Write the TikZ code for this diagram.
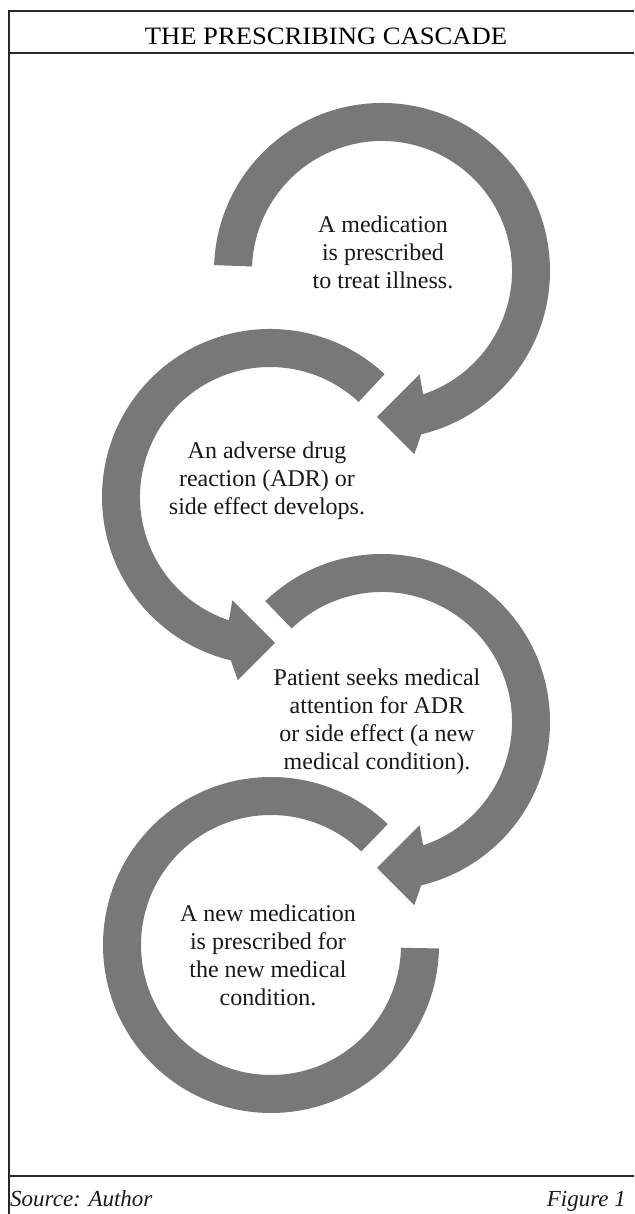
\documentclass[tikz,border=0pt]{standalone}
\usepackage{fontspec}
\setmainfont{Liberation Serif}
\definecolor{arrowgray}{RGB}{120,120,120}
\definecolor{framegray}{RGB}{40,40,40}
\begin{document}
\begin{tikzpicture}[x=1pt,y=1pt,
  arrowfill/.style={fill=arrowgray,draw=none},
  frameline/.style={draw=framegray,line width=2.4pt},
  thinline/.style={draw=framegray,line width=1.6pt},
  bodytext/.style={align=center,font=\fontsize{24}{28}\selectfont,inner sep=0pt,text=black!90},
  foottext/.style={font=\fontsize{23}{26}\selectfont\itshape,inner sep=0pt,text=black!90},
  titletext/.style={font=\fontsize{25}{28}\selectfont,inner sep=0pt,text=black}
]
\useasboundingbox (0,0) rectangle (634,1214);
\fill[white] (0,0) rectangle (634,1214);
% frame
\coordinate (tl) at (9,1203);
\coordinate (tr) at (634,1203);
\coordinate (hl) at (9,1161);
\coordinate (hr) at (634,1161);
\coordinate (fl) at (9,38);
\coordinate (fr) at (634,38);
\coordinate (bl) at (9,0);
\draw[frameline] (tr) -- (tl) -- (bl);
\draw[frameline] (hl) -- (hr);
\draw[thinline] (fl) -- (fr);
% title
\node[titletext] (title) at (326,1177.3) {\scalebox{1.065}[1]{THE PRESCRIBING CASCADE}};
% circle centres
\coordinate (c1) at (382,943);
\coordinate (c2) at (270,717);
\coordinate (c3) at (382,492);
\coordinate (c4) at (271,269);
% arrow 1 (clockwise, from left)
\fill[arrowfill,shift={(c1)}] (178:168) arc[start angle=178,end angle=-76.5,radius=168]
  -- (-80:186) -- (-92:146) -- (-70:110) -- (-71.6:130)
  arc[start angle=-71.6,end angle=178,radius=130] -- cycle;
% arrow 2 (counter-clockwise)
\fill[arrowfill,shift={(c2)}] (47:168) arc[start angle=47,end angle=256.5,radius=168]
  -- (260:186) -- (272:146) -- (250:110) -- (251.6:130)
  arc[start angle=251.6,end angle=47,radius=130] -- cycle;
% arrow 3 (clockwise)
\fill[arrowfill,shift={(c3)}] (134:168) arc[start angle=134,end angle=-76.5,radius=168]
  -- (-80:186) -- (-92:146) -- (-70:110) -- (-71.6:130)
  arc[start angle=-71.6,end angle=134,radius=130] -- cycle;
% arrow 4 (counter-clockwise, no head)
\fill[arrowfill,shift={(c4)}] (46:168) arc[start angle=46,end angle=358.8,radius=168]
  -- (358.8:130) arc[start angle=358.8,end angle=46,radius=130] -- cycle;
% texts
\node[bodytext] (t1) at (383,962) {A medication\\is prescribed\\to treat illness.};
\node[bodytext] (t2) at (267,733) {An adverse drug\\reaction (ADR) or\\side effect develops.};
\node[bodytext] (t3) at (377,492) {Patient seeks medical\\attention for ADR\\or side effect (a new\\medical condition).};
\node[bodytext] (t4) at (268,259) {A new medication\\is prescribed for\\the new medical\\condition.};
% footer
\node[foottext,anchor=base west] (src) at (10,7) {Source: Author};
\node[foottext,anchor=base east] (fig) at (626,7) {Figure 1};
\end{tikzpicture}
\end{document}
